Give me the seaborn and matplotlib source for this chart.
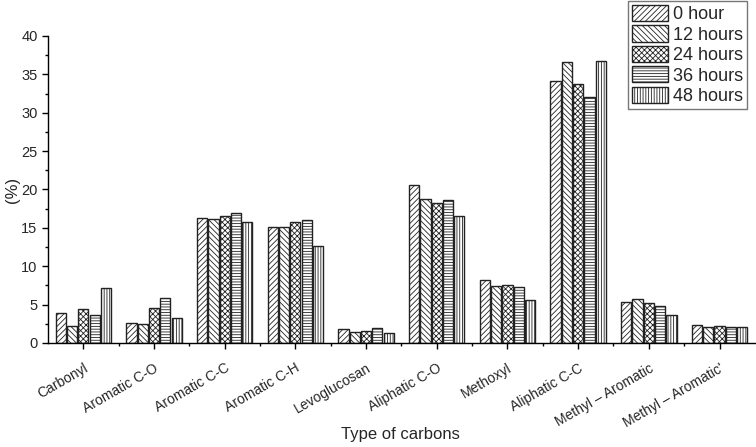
"""
Type of carbons, bars per reaction time.
"""

import pandas as pd
import seaborn as sns
import matplotlib.pyplot as plt
from matplotlib.ticker import MultipleLocator, FixedLocator
from matplotlib.patches import Patch

# Data
carbons = ["Carbonyl", "Aromatic C-O", "Aromatic C-C", "Aromatic C-H",
           "Levoglucosan", "Aliphatic C-O", "Methoxyl", "Aliphatic C-C",
           "Methyl \u2013 Aromatic", "Methyl \u2013 Aromatic'"]
times = ["0 hour", "12 hours", "24 hours", "36 hours", "48 hours"]

h0 = [3.9, 2.6, 16.3, 15.1, 1.8, 20.6, 8.2, 34.1, 5.3, 2.3]
h12 = [2.2, 2.5, 16.2, 15.1, 1.4, 18.8, 7.4, 36.6, 5.7, 2.1]
h24 = [4.4, 4.6, 16.6, 15.8, 1.5, 18.3, 7.6, 33.8, 5.2, 2.2]
h36 = [3.6, 5.8, 17.0, 16.0, 1.9, 18.6, 7.3, 32.1, 4.8, 2.1]
h48 = [7.1, 3.3, 15.8, 12.6, 1.3, 16.5, 5.6, 36.7, 3.7, 2.1]

hatches = ["//////", "\\\\\\\\\\\\", "xxxxxx", "------", "||||||"]

# Long table for seaborn
df = pd.DataFrame({"carbon": carbons * 5,
                   "time": [t for t in times for _ in carbons],
                   "value": h0 + h12 + h24 + h36 + h48})

sns.set_style("white")
plt.rcParams['font.family'] = ['Liberation Sans', 'DejaVu Sans']
plt.rcParams['hatch.linewidth'] = 0.6

fig = plt.figure(figsize=(7.56, 4.47), dpi=100)
ax = fig.add_axes([0.0635, 0.2327, 0.935, 0.6868])

sns.barplot(data=df, x="carbon", y="value", hue="time", order=carbons,
            hue_order=times, color="white", width=0.8, gap=0.1,
            edgecolor="#222222", linewidth=1.0, ax=ax, legend=False)

# Fill every bar white and give each hour its own hatch
for cont, h in zip(ax.containers, hatches):
    for bar in cont:
        bar.set_facecolor("white")
        bar.set_hatch(h)

ax.set_xlim(-0.5, len(carbons) - 0.5)
ax.set_ylim(0, 40)
ax.yaxis.set_major_locator(MultipleLocator(5))
ax.yaxis.set_minor_locator(MultipleLocator(2.5))
ax.xaxis.set_minor_locator(FixedLocator([i + 0.5 for i in range(len(carbons) - 1)]))

for s in ["top", "right"]:
    ax.spines[s].set_visible(False)
for s in ["left", "bottom"]:
    ax.spines[s].set_color("black")
    ax.spines[s].set_linewidth(1.0)

ax.tick_params(axis="both", which="major", direction="out", length=4,
               width=1, color="black", labelsize=10.5, left=True, bottom=True)
ax.tick_params(axis="both", which="minor", direction="out", length=2.5,
               width=1, color="black", left=True, bottom=True)
ax.tick_params(axis="x", which="major", pad=9, labelsize=10)
plt.setp(ax.get_xticklabels(), rotation=30, ha="right", rotation_mode="anchor")

ax.set_xlabel("Type of carbons", fontsize=12)
ax.xaxis.set_label_coords(0.499, -0.275)
ax.set_ylabel("(%)", fontsize=12)
ax.yaxis.set_label_coords(-0.040, 0.5)

# Legend with hatched handles
handles = [Patch(facecolor="white", edgecolor="#222222", hatch=h, label=t)
           for h, t in zip(hatches, times)]
leg = fig.legend(handles=handles, loc="upper right",
                 bbox_to_anchor=(0.988, 0.997), fontsize=13,
                 frameon=True, fancybox=False, edgecolor="#555555",
                 handlelength=2.0, handleheight=1.0, handletextpad=0.3,
                 labelspacing=0.12, borderpad=0.2, borderaxespad=0)

fig.savefig("out.png", dpi=100)
